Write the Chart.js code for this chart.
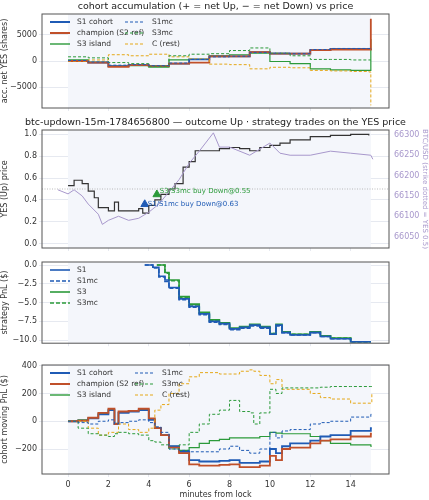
<!DOCTYPE html>
<html><head><meta charset="utf-8">
<script src="https://cdn.jsdelivr.net/npm/chart.js@4.4.0/dist/chart.umd.min.js"></script>
<style>
body{margin:0;background:#fff;width:429px;height:500px;position:relative;overflow:hidden}
canvas{position:absolute;left:0}
</style></head><body>
<canvas id="c1" style="top:0" width="429" height="115"></canvas>
<canvas id="c2" style="top:115px" width="429" height="140"></canvas>
<canvas id="c3" style="top:255px" width="429" height="95"></canvas>
<canvas id="c4" style="top:350px" width="429" height="150"></canvas>
<script>
// --- panel 1: accumulated net YES shares
var accT = [0,1,2,3,4,5,6,7,8,9,10,11,12,13,14,14.9,15];
var accS1 = [0,-300,-1000,-800,-1000,-500,300,900,900,1700,1400,1400,2100,2300,2300,2300,2400];
var accChamp = [0,-300,-1100,-800,-1000,-500,-300,900,900,1700,1400,1400,2100,2200,2200,2200,8100];
var accS3 = [200,-200,-1000,-900,-1200,200,300,1000,1200,1500,-100,-500,-1500,-1700,-1800,-1800,4200];
var accS1mc = [100,-200,-800,-700,-900,-400,300,800,900,1600,1500,1400,2200,2400,2400,2400,2400];
var accS3mc = [800,600,-300,-500,-1000,1000,1300,1400,2000,2500,1500,1000,300,300,200,200,200];
var accC = [0,200,1200,1000,1300,800,400,-600,-700,-1500,-1200,-1300,-1800,-1900,-2000,-2100,-8500];

// --- panel 2: YES price and BTC
var pxT = [0,0.3,0.7,1,1.3,1.5,2,2.3,2.5,3,3.5,3.7,4,4.3,4.6,5,5.3,5.7,6,6.3,7,7.5,8,8.5,9,9.5,10,10.5,11,12,13,14,14.9];
var pxYes = [0.53,0.58,0.55,0.48,0.42,0.33,0.3,0.38,0.3,0.3,0.32,0.28,0.35,0.4,0.45,0.5,0.55,0.7,0.75,0.85,0.85,0.87,0.88,0.87,0.85,0.88,0.9,0.92,0.95,0.98,0.99,1.0,0.99];
var btcT = [-0.5,0,0.3,0.7,1,1.5,1.7,2,2.5,3,3.5,4,4.5,5,5.5,6,6.5,7.2,7.5,8,9,10,10.5,11,12,13,14,15,15.1];
var btcUsd = [66165,66155,66165,66150,66130,66105,66080,66090,66100,66090,66095,66110,66130,66160,66190,66230,66260,66305,66270,66270,66250,66280,66255,66250,66250,66260,66255,66250,66240];
var tradeT = [3.8,4.4];
var tradeP = [0.36,0.45];
var tradeLbl = ['S1/S1mc buy Down@0.63','S3/S3mc buy Down@0.55'];

// --- panel 3: strategy PnL
var pnlT1 = [3.8,4.2,4.5,4.8,5,5.5,6,6.5,7,7.5,8,8.5,9,9.5,10,10.3,10.6,11,12,12.5,13,14,15];
var pnlS1 = [0,-0.3,-1.5,-2,-3,-4.5,-5.5,-6.5,-7.5,-7.8,-8.5,-8.3,-8,-8.3,-9.2,-8,-9,-9.3,-9,-9.5,-9.8,-10.2,-10.2];
var pnlS1mc = [0,-0.4,-1.6,-2.2,-3.1,-4.6,-5.6,-6.6,-7.6,-7.9,-8.6,-8.4,-8.1,-8.4,-9.2,-8.1,-9,-9.3,-9,-9.5,-9.8,-10.2,-10.2];
var pnlT3 = [4.4,4.8,5,5.5,6,6.5,7,7.5,8,8.5,9,9.5,10,10.3,10.6,11,12,12.5,13,14,15];
var pnlS3 = [0,-1,-2,-4.2,-5.2,-6.3,-7.3,-7.7,-8.4,-8.2,-7.9,-8.2,-9.1,-7.9,-8.9,-9.2,-8.9,-9.4,-9.7,-10.2,-10.2];
var pnlS3mc = [0,-1.1,-2.1,-4.3,-5.3,-6.4,-7.4,-7.8,-8.5,-8.3,-8,-8.3,-9.1,-8,-8.9,-9.2,-8.9,-9.4,-9.7,-10.2,-10.2];

// --- panel 4: cohort moving PnL
var mvT = [0,0.5,1,1.5,2,2.3,2.5,3,3.5,4,4.3,4.6,5,5.5,6,6.5,7,7.5,8,8.5,9,9.2,9.5,10,10.3,10.6,11,12,12.5,13,14,15,15.05];
var mvS1 = [0,5,20,50,80,-20,60,70,80,10,-50,-100,-180,-220,-280,-290,-290,-285,-280,-300,-300,-300,-290,-200,-230,-180,-160,-140,-110,-100,-70,-50,-50];
var mvChamp = [0,5,25,60,90,-20,70,75,90,20,-50,-100,-190,-230,-310,-320,-320,-315,-310,-330,-330,-330,-320,-250,-280,-200,-190,-160,-140,-130,-110,-90,-90];
var mvS3 = [0,10,25,55,85,-15,65,70,85,15,-45,-100,-180,-210,-190,-160,-140,-130,-120,-120,-120,-120,-110,-80,-85,-90,-90,-110,-140,-160,-170,-180,-180];
var mvS1mc = [0,-10,-20,0,10,-20,-10,0,10,-10,-40,-80,-200,-210,-220,-220,-220,-200,-180,-210,-230,-230,-200,-80,-120,-70,-60,-20,-10,0,30,50,40];
var mvS3mc = [0,-50,-90,-100,-110,-90,-80,-90,-100,-140,-150,-170,-200,-170,-80,-20,50,80,150,70,60,-20,60,230,200,240,240,240,245,250,250,250,250];
var mvC = [0,0,-50,-100,-80,-80,-20,-60,-80,-50,80,120,200,270,320,350,350,340,340,360,370,360,330,270,300,230,230,200,170,160,130,130,200];

var BLUE='#1f5bb5', RED='#c0502a', GREEN='#2b9a3a', ORANGE='#e5a818', PURPLE='#a898cc', DARK='#333333';
var XMIN=-1.29, XMAX=15.9;
Chart.defaults.font.family='DejaVu Sans';
Chart.defaults.font.size=8;
Chart.defaults.color='#333';
Chart.defaults.animation=false;

function pts(t,v){ return t.map(function(x,i){return {x:x,y:v[i]};}); }
function ser(t,v,c,dash,w,extra){
  var d={data:pts(t,v),borderColor:c,borderWidth:w||1.4,pointRadius:0,stepped:true,fill:false,borderDash:dash||[]};
  for(var k in extra) d[k]=extra[k];
  return d;
}
var bgPlugin={id:'bg',beforeDatasetsDraw:function(ch){
  var a=ch.chartArea,x=ch.scales.x,ctx=ch.ctx;ctx.save();
  ctx.fillStyle='#f4f6fb';ctx.fillRect(x.getPixelForValue(0),a.top,x.getPixelForValue(15)-x.getPixelForValue(0),a.height);
  ctx.restore();},
 afterDraw:function(ch){var a=ch.chartArea,ctx=ch.ctx;ctx.save();ctx.strokeStyle='#555';ctx.lineWidth=1;
  ctx.strokeRect(a.left,a.top,a.width,a.height);
  var o=ch.options.plugins.extra||{};
  if(o.title){ctx.fillStyle='#222';ctx.font='9.5px DejaVu Sans';ctx.textAlign='center';ctx.textBaseline='bottom';ctx.fillText(o.title,(a.left+a.right)/2,a.top-3);}
  if(o.legend){o.legend.forEach(function(it,i){
    var col=Math.floor(i/o.rows),row=i%o.rows;
    var lx=a.left+8+col*(o.colW||0),ly=a.top+8+row*11;
    ctx.strokeStyle=it[1];ctx.lineWidth=it[3]||1.6;ctx.setLineDash(it[2]||[]);
    ctx.beginPath();ctx.moveTo(lx,ly);ctx.lineTo(lx+20,ly);ctx.stroke();ctx.setLineDash([]);
    ctx.fillStyle='#333';ctx.font='7.5px DejaVu Sans';ctx.textAlign='left';ctx.textBaseline='middle';ctx.fillText(it[0],lx+27,ly);});}
  if(o.labels){o.labels.forEach(function(l){ctx.fillStyle=l[3];ctx.font='7px DejaVu Sans';ctx.textAlign='left';ctx.textBaseline='middle';
    ctx.fillText(l[2],ch.scales.x.getPixelForValue(l[0])+3,ch.scales.y.getPixelForValue(l[1]));});}
  ctx.restore();}};

function xScale(h,show){
  return {type:'linear',min:XMIN,max:XMAX,afterFit:function(s){s.height=h;},
    grid:{color:'#e6e9f0',drawTicks:true,tickLength:3},border:{display:false},
    ticks:{display:show,stepSize:2,callback:function(v){return (v>=0&&v<=14&&v%2===0)?v:'';}},
    afterBuildTicks:function(s){s.ticks=[0,2,4,6,8,10,12,14].map(function(v){return{value:v};});},
    title:{display:show,text:'minutes from lock',padding:{top:1,bottom:0},font:{size:8}}};
}
function yScale(min,max,ticks,title,pos,col){
  return {type:'linear',position:pos||'left',min:min,max:max,afterFit:function(s){s.width=pos==='right'?40:42;},
    afterBuildTicks:function(s){s.ticks=ticks.map(function(v){return{value:v};});},
    grid:{color:'#e6e9f0',display:pos!=='right',tickLength:3},border:{display:false},
    ticks:{color:col||'#333',padding:2,callback:function(v){return v<0?'\u2212'+Math.abs(v).toFixed(ticks.fmt||0):v.toFixed(ticks.fmt||0);}},
    title:{display:true,text:title,color:col||'#333',padding:0,font:{size:pos==='right'?7:8}}};
}
function mk(id,datasets,scales,pad,extra){
  return new Chart(document.getElementById(id),{type:'line',data:{datasets:datasets},plugins:[bgPlugin],
    options:{responsive:false,layout:{padding:pad},scales:scales,
      plugins:{legend:{display:false},tooltip:{enabled:false},extra:extra}}});
}

var z1=[5000,0,-5000];
mk('c1',[
  ser(accS1,accS1mc,BLUE,[3,2],1),
  ser(accT,accS3mc,GREEN,[3,2],1),
  ser(accT,accC,ORANGE,[3,2],1),
  ser(accT,accChamp,RED,[],1.8),
  ser(accT,accS1,BLUE,[],1.8),
  ser(accT,accS3,GREEN,[],1.2)
].map(function(d,i){if(i===0)d.data=pts(accT,accS1mc);return d;}),
 {x:xScale(7,false),y:yScale(-9000,9000,z1,'acc. net YES (shares)')},{top:14,right:40},
 {title:'cohort accumulation (+ = net Up, \u2212 = net Down) vs price',rows:3,colW:75,
  legend:[['S1 cohort',BLUE,[],2],['champion (S2 ref)',RED,[],2],['S3 island',GREEN,[],1.4],['S1mc',BLUE,[3,2],1],['S3mc',GREEN,[3,2],1],['C (rest)',ORANGE,[3,2],1]]});

var z2=[0,0.2,0.4,0.6,0.8,1.0];z2.fmt=1;
var z2r=[66050,66100,66150,66200,66250,66300];
mk('c2',[
  {data:[{x:XMIN,y:0.5},{x:XMAX,y:0.5}],borderColor:'#aaa',borderWidth:0.8,borderDash:[1,1.5],pointRadius:0},
  ser(btcT,btcUsd,PURPLE,[],1,{yAxisID:'y2',stepped:false}),
  ser(pxT,pxYes,DARK,[],1.2),
  {type:'scatter',data:[{x:tradeT[0],y:tradeP[0]}],pointStyle:'triangle',pointRadius:4.5,backgroundColor:BLUE,borderColor:BLUE,showLine:false},
  {type:'scatter',data:[{x:tradeT[1],y:tradeP[1]}],pointStyle:'triangle',pointRadius:4.5,backgroundColor:GREEN,borderColor:GREEN,showLine:false}
 ],{x:xScale(7,false),y:yScale(-0.04,1.04,z2,'YES (Up) price'),
    y2:yScale(66022,66312,z2r,'BTC/USD (strike dotted = YES 0.5)','right',PURPLE)},{top:15},
 {title:'btc-updown-15m-1784656800 \u2014 outcome Up \u00b7 strategy trades on the YES price',
  labels:[[tradeT[0],tradeP[0],tradeLbl[0],BLUE],[tradeT[1],tradeP[1]+0.03,tradeLbl[1],GREEN]]});

var z3=[0,-2.5,-5,-7.5,-10];z3.fmt=1;
mk('c3',[
  ser(pnlT1,pnlS1mc,BLUE,[4,2],1.6),
  ser(pnlT1,pnlS1,BLUE,[],1.6),
  ser(pnlT3,pnlS3mc,GREEN,[4,2],1.6),
  ser(pnlT3,pnlS3,GREEN,[],1.6)
 ],{x:xScale(5,false),y:yScale(-10.4,0.4,z3,'strategy PnL ($)')},{top:7,right:40},
 {rows:4,legend:[['S1',BLUE,[],1.6],['S1mc',BLUE,[4,2],1.6],['S3',GREEN,[],1.6],['S3mc',GREEN,[4,2],1.6]]});

mk('c4',[
  ser(mvT,mvS1mc,BLUE,[3,2],1),
  ser(mvT,mvS3mc,GREEN,[3,2],1),
  ser(mvT,mvC,ORANGE,[3,2],1),
  ser(mvT,mvChamp,RED,[],1.8),
  ser(mvT,mvS1,BLUE,[],1.8),
  ser(mvT,mvS3,GREEN,[],1.2)
 ],{x:xScale(26,true),y:yScale(-380,405,[400,200,0,-200],'cohort moving PnL ($)')},{top:15,right:40},
 {rows:3,colW:85,legend:[['S1 cohort',BLUE,[],2],['champion (S2 ref)',RED,[],2],['S3 island',GREEN,[],1.4],['S1mc',BLUE,[3,2],1],['S3mc',GREEN,[3,2],1],['C (rest)',ORANGE,[3,2],1]]});
</script></body></html>
